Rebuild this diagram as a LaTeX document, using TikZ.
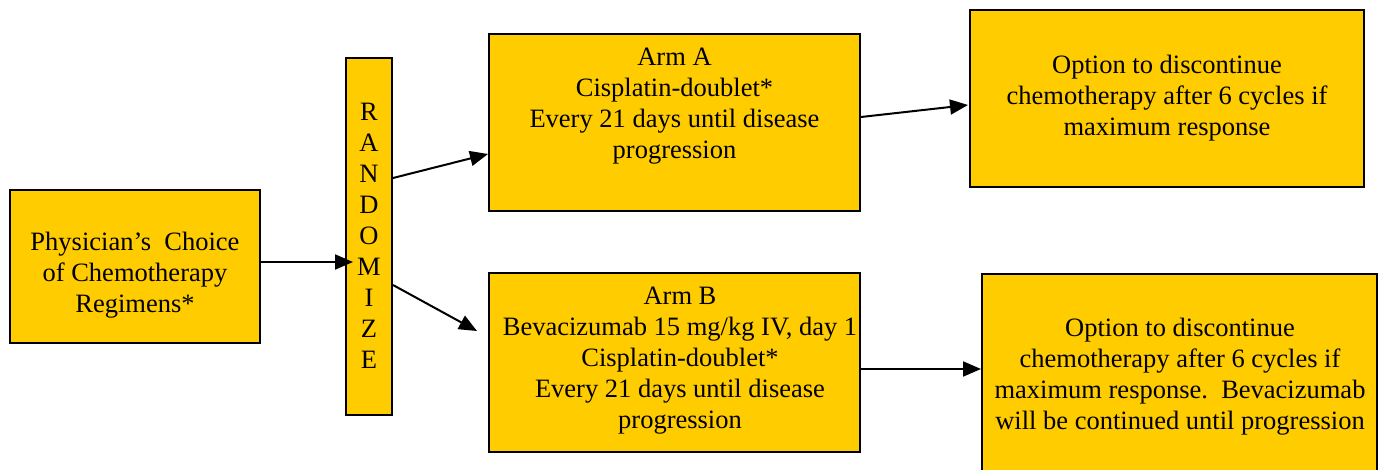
\documentclass[tikz,border=0pt]{standalone}
\usepackage{fontspec}
\setmainfont{Liberation Serif}
\usetikzlibrary{arrows.meta,calc}
\definecolor{boxgold}{HTML}{FFCC00}
\tikzset{
  box/.style={draw=black, line width=2pt, fill=boxgold, inner sep=0pt},
  txt/.style={align=center, inner sep=0pt, font=\fontsize{26.5}{31}\selectfont},
  arr/.style={line width=2pt, -{Triangle[length=18pt,width=15pt]}}
}
\begin{document}
\begin{tikzpicture}[x=1pt,y=-1pt]
\useasboundingbox (0,0) rectangle (1379,470);
% boxes
\node[box, minimum width=250pt, minimum height=153pt] (P) at (135,266.5) {};
\node[box, minimum width=46pt, minimum height=357pt] (R) at (369,236.5) {};
\node[box, minimum width=371pt, minimum height=177pt] (A) at (674.5,122.5) {};
\node[box, minimum width=394pt, minimum height=177pt] (OA) at (1167,98.5) {};
\node[box, minimum width=371pt, minimum height=179pt] (B) at (674.5,362.5) {};
\node[box, minimum width=395pt, minimum height=216pt] (OB) at (1179.5,382) {};
% texts
\node[txt] (Pt) at (135,275) {Physician's\ \ Choice\\of Chemotherapy\\Regimens*};
\node[txt] (Rt) at (369,236) {R\\A\\N\\D\\O\\M\\I\\Z\\E};
\node[txt] (At) at (674.5,106) {Arm A\\Cisplatin-doublet*\\Every 21 days until disease\\progression};
\node[txt] (OAt) at (1167,98.5) {Option to discontinue\\chemotherapy after 6 cycles if\\maximum response};
\node[txt] (Bt) at (680,361) {Arm B\\Bevacizumab 15 mg/kg IV, day 1\\Cisplatin-doublet*\\Every 21 days until disease\\progression};
\node[txt] (OBt) at (1180,377) {Option to discontinue\\chemotherapy after 6 cycles if\\maximum response.\ \ Bevacizumab\\will be continued until progression};
% connectors
\draw[arr] ($(P.east)+(0,-4.5)$) -- ($(R.west)+(8,25.5)$);
\draw[arr] ($(R.east)+(0,-58.5)$) -- ($(A.west)+(0,31.5)$);
\draw[arr] ($(R.east)+(0,48.5)$) -- ($(B.west)+(-11,-31.5)$);
\draw[arr] ($(A.east)+(0,-5.5)$) -- ($(OA.west)+(-1,6.5)$);
\draw[arr] ($(B.east)+(0,6.5)$) -- ($(OB.west)+(0,-13)$);
\end{tikzpicture}
\end{document}
